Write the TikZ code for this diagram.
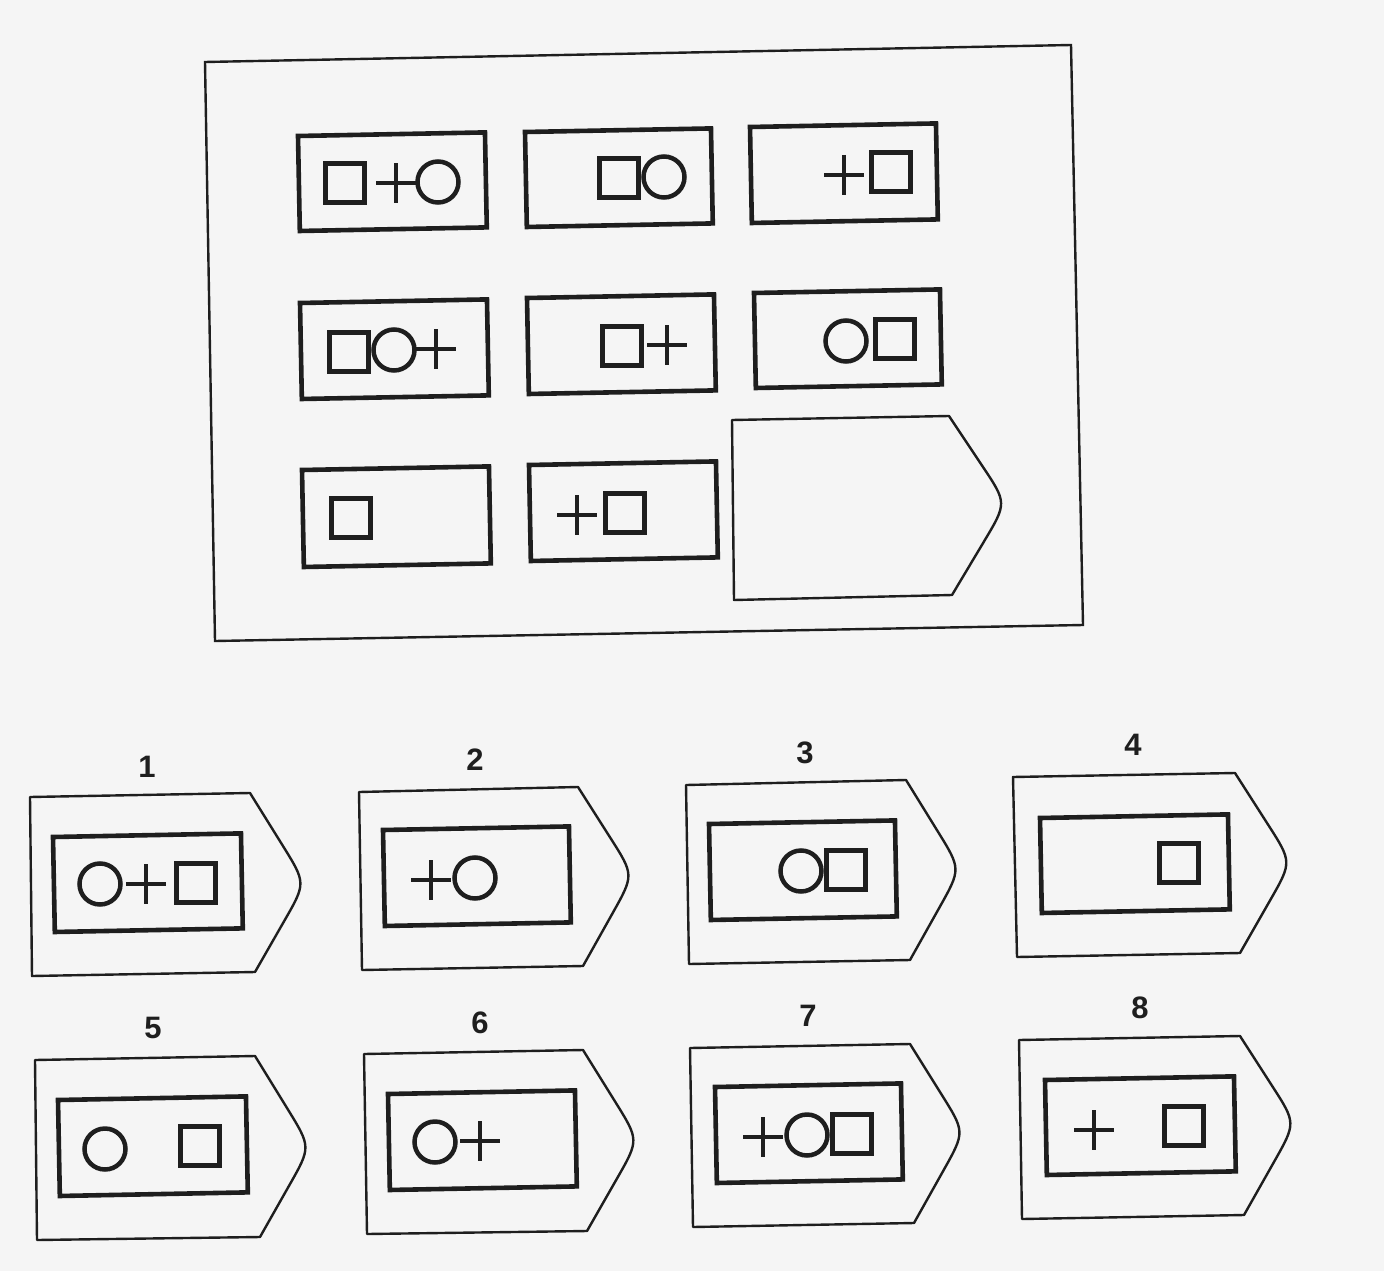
\documentclass[tikz,border=0pt]{standalone}
\usepackage{fontspec}
\setmainfont{Liberation Sans}
\usetikzlibrary{calc}
\definecolor{bg}{HTML}{F5F5F5}
\definecolor{ink}{HTML}{1E1E1E}
\tikzset{
  frameline/.style={draw=ink, line width=2.4pt, line join=miter},
  tagline/.style={draw=ink, line width=2.4pt, line join=round},
  boxline/.style={draw=ink, line width=4.6pt},
  symline/.style={draw=ink, line width=4.5pt},
  lbl/.style={font=\fontsize{31}{33}\selectfont\bfseries, text=ink, inner sep=0pt}
}
\newcommand\rbox[4]{\begin{scope}[shift={(#1,#2)},rotate=1.1]\draw[boxline] (0,0) rectangle (#3,#4);\end{scope}}
\newcommand\symsq[2]{\draw[symline] (#1-19.5,#2-19.5) rectangle (#1+19.5,#2+19.5);}
\newcommand\symci[2]{\draw[symline] (#1,#2) circle[radius=20.5];}
\newcommand\sympl[2]{\draw[symline] (#1-20,#2)--(#1+20,#2) (#1,#2-20)--(#1,#2+20);}
\newcommand\tagshape[6]{%
  \coordinate (#1tl) at (#2);
  \coordinate (#1tr) at (#3);
  \coordinate (#1tp) at ($(#4)+(1,0)$);
  \coordinate (#1br) at (#5);
  \coordinate (#1bl) at (#6);
  \draw[tagline] (#1tl) -- (#1tr) -- ($(#1tp)!0.42!(#1tr)$) .. controls (#1tp) .. ($(#1tp)!0.42!(#1br)$) -- (#1br) -- (#1bl) -- cycle;}
\begin{document}
\begin{tikzpicture}[x=1pt,y=-1pt]
\fill[bg] (0,0) rectangle (1384,1271);
\useasboundingbox (0,0) rectangle (1384,1271);
% main frame
\draw[frameline] (205,62) -- (1071,45) -- (1083,625) -- (215,641) -- cycle;
% row 1
\rbox{298}{136}{187}{95}
\symsq{345}{183} \sympl{396}{183} \symci{438}{182}
\rbox{525}{132}{186}{95}
\symsq{619}{178} \symci{664}{177}
\rbox{750}{127}{186}{96}
\sympl{844}{175} \symsq{891}{172}
% row 2
\rbox{300}{303}{187}{96}
\symsq{349}{352} \symci{394}{350} \sympl{436}{349}
\rbox{527}{298}{187}{96}
\symsq{622}{346} \sympl{667}{345}
\rbox{754}{293}{186}{95}
\symci{846}{341} \symsq{895}{339}
% row 3
\rbox{302}{470}{187}{97}
\symsq{351}{518}
\rbox{529}{465}{187}{96}
\sympl{577}{515} \symsq{625}{513}
\tagshape{q}{732,420}{949,416}{1006,503}{952,595}{734,600}
% options
\node[lbl] (l1) at (147,767) {1};
\tagshape{a}{30,797}{250,793}{305,883}{255,972}{32,976}
\rbox{53}{837}{188}{95}
\symci{100}{884} \sympl{146}{884} \symsq{196}{883}
\node[lbl] (l2) at (475,760) {2};
\tagshape{b}{359,792}{578,787}{633,875}{583,966}{362,970}
\rbox{383}{830}{186}{96}
\sympl{431}{880} \symci{475}{878}
\node[lbl] (l3) at (805,753) {3};
\tagshape{c}{686,785}{906,780}{960,869}{910,960}{689,964}
\rbox{709}{824}{186}{96}
\symci{801}{871} \symsq{846}{870}
\node[lbl] (l4) at (1133,745) {4};
\tagshape{d}{1013,777}{1235,773}{1291,862}{1240,953}{1017,957}
\rbox{1040}{818}{188}{95}
\symsq{1179}{863}
\node[lbl] (l5) at (153,1028) {5};
\tagshape{e}{35,1060}{255,1056}{310,1147}{260,1237}{37,1240}
\rbox{58}{1100}{188}{96}
\symci{105}{1149} \symsq{200}{1146}
\node[lbl] (l6) at (480,1023) {6};
\tagshape{f}{364,1054}{583,1050}{638,1140}{587,1231}{367,1234}
\rbox{388}{1094}{187}{96}
\symci{435}{1142} \sympl{480}{1141}
\node[lbl] (l7) at (808,1016) {7};
\tagshape{g}{690,1048}{910,1044}{964,1132}{914,1223}{693,1227}
\rbox{715}{1087}{186}{96}
\sympl{763}{1137} \symci{807}{1135} \symsq{852}{1134}
\node[lbl] (l8) at (1140,1008) {8};
\tagshape{h}{1019,1040}{1240,1036}{1295,1123}{1244,1215}{1022,1219}
\rbox{1045}{1080}{189}{95}
\sympl{1094}{1130} \symsq{1184}{1126}
\end{tikzpicture}
\end{document}
